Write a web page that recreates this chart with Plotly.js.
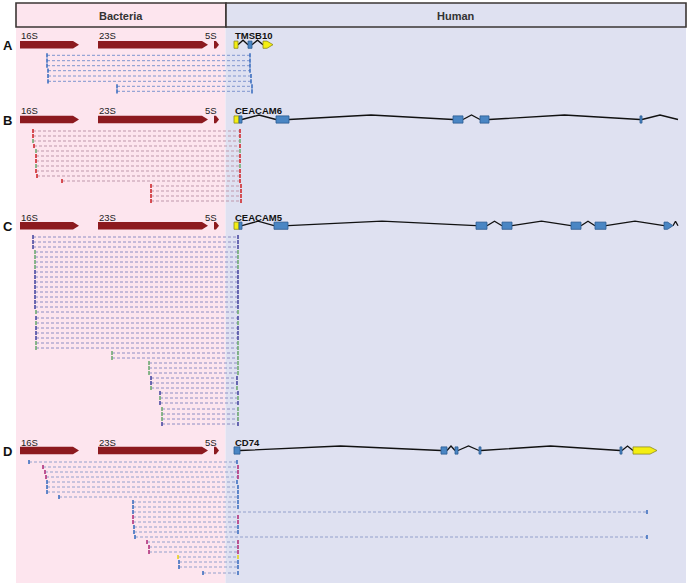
<!DOCTYPE html>
<html><head><meta charset="utf-8">
<script src="https://cdn.plot.ly/plotly-3.0.1.min.js"></script>
<style>html,body{margin:0;padding:0;background:#fff}#chart{width:687px;height:586px}</style>
</head><body><div id="chart"></div>
<script>
// ---------------- DATA (pixel-scale schematic coordinates) ----------------
const panelLetters = ["A","B","C","D"];
const panelRowY    = [44.7, 119.5, 225.7, 450.5];      // centre line of each gene row
const panelLabelY  = [35, 110, 217, 442];              // gene-name text row
const humanGenes   = ["TMSB10","CEACAM6","CEACAM5","CD74"];

// bacterial rRNA operon (same in every panel): [start, end, tip]
const rrnaNames = ["16S","23S","5S"];
const rrnaStart = [20, 98, 214];
const rrnaEnd   = [79, 208, 219];
const rrnaTip   = [6, 6, 3];

// human gene exons: [start, end, kind]  kind: y=yellow box, b=blue box, ya=yellow arrow, ba=blue arrow
const exonsTMSB10  = [[234,238,"y"],[248,252,"b"],[263,273,"ya"]];
const exonsCEACAM6 = [[234,239,"y"],[239,242,"b"],[276,289,"b"],[453,463,"b"],[480,489,"b"],[640,642,"b"]];
const exonsCEACAM5 = [[234,239,"y"],[239,242,"b"],[274,288,"b"],[476,487,"b"],[502,512,"b"],[571,581,"b"],[595,606,"b"],[664,673,"ba"]];
const exonsCD74    = [[234,240,"b"],[441,447,"b"],[455,458,"b"],[479,481,"b"],[620,622,"b"],[633,657,"ya"]];
const trailingIntron = [null,[642,678],[673,678],null];

// reads (chimeric fragments): row y, start, end, colour code
const aY     = [55.3,60.7,65.7,70.7,76,81.3,86.3,91.3];
const aStart = [47,47,47,48,48,48,117,117];
const aEnd   = [250,250,250,250,251,251,252,252];
const aCol   = ["b","b","b","b","b","b","b","b"];

const bY     = [131,136,141,146,151,156,161,166,171,176,181,186,191,196,201];
const bStart = [33,33,33,34,36,36,36,36,36,37,62,151,151,151,151];
const bEnd   = [240,240,240,240,240,240,240,240,240,240,240,241,241,241,241];
const bCol   = ["r","r","g","r","g","r","r","g","r","r","r","r","r","r","r"];

const cY     = [237,242,247,252,257,262,267,272,277,282,287,292,297,302,307,312,318,323,328,333,338,343,348,
                353,358,363,368,373,378,383,388,393,398,403,409,414,419,424];
const cStart = [33,33,33,35,35,35,35,35,35,35,35,35,35,35,35,36,36,36,36,36,36,36,36,
                112,112,149,149,149,151,151,151,160,160,160,162,162,162,162];
const cEnd   = [238,238,238,238,238,238,238,238,238,238,238,238,238,238,238,238,238,238,238,238,238,238,238,
                238,238,238,238,238,237,237,237,238,238,238,238,238,238,238];
const cCol   = ["p","p","p","g","g","g","g","p","p","p","p","p","p","p","p","g","p","g","p","p","p","g","g",
                "g","g","g","g","g","p","p","g","p","g","p","g","g","g","p"];

const dY     = [462,467,472,477,482,487,492,497,502,507,512,517,522,527,532,537,542,547,552,557,562,567,573];
const dStart = [29,43,45,46,47,47,47,59,133,133,133,133,133,134,134,135,147,149,149,178,179,179,203];
const dEnd   = [237,238,238,238,237,238,238,238,238,238,647,238,238,238,238,647,238,238,238,238,238,238,238];
const dCol   = ["b","m","m","m","b","b","b","b","b","b","b","m","m","b","b","b","m","m","m","y","b","b","b"];

// ---------------- STYLE ----------------
const markCol = {b:"#3e70c0", r:"#d02a2e", g:"#6fab72", p:"#4b4ba2", m:"#b2317c", y:"#e8d21c"};
const dashCol = ["#7f95cf","#bf97ab","#8e8ec4","#93a0cc"];
const FONT = "Liberation Sans, Arial, sans-serif";
const PINK = "#fde5ee", LAV = "#dfe1f1";

const shapes = [], annotations = [], traces = [];

// backgrounds
shapes.push({type:"rect",xref:"x",yref:"y",x0:16,x1:225.5,y0:27,y1:583,fillcolor:PINK,line:{width:0},layer:"below"});
shapes.push({type:"rect",xref:"x",yref:"y",x0:225.5,x1:686,y0:27,y1:583,fillcolor:LAV,line:{width:0},layer:"below"});
// header boxes
shapes.push({type:"rect",xref:"x",yref:"y",x0:16,x1:226,y0:3,y1:27,fillcolor:PINK,line:{color:"#3b3634",width:1.6},layer:"above"});
shapes.push({type:"rect",xref:"x",yref:"y",x0:226,x1:686,y0:3,y1:27,fillcolor:LAV,line:{color:"#3b3634",width:1.6},layer:"above"});
annotations.push({x:121,y:15.5,xref:"x",yref:"y",text:"<b>Bacteria</b>",showarrow:false,font:{family:FONT,size:11,color:"#333"}});
annotations.push({x:456,y:15.5,xref:"x",yref:"y",text:"<b>Human</b>",showarrow:false,font:{family:FONT,size:11,color:"#333"}});

function arrowPath(x0,x1,tip,yc,h){
  return `M ${x0},${yc-h} L ${x1-tip},${yc-h} L ${x1},${yc} L ${x1-tip},${yc+h} L ${x0},${yc+h} Z`;
}

const exonSets = [exonsTMSB10, exonsCEACAM6, exonsCEACAM5, exonsCD74];
const intronX = [], intronY = [];
const PEAK = 4.5, HH = 3.6;

panelLetters.forEach((L,i)=>{
  const yc = panelRowY[i];
  annotations.push({x:7.5,y:yc+0.5,xref:"x",yref:"y",text:"<b>"+L+"</b>",showarrow:false,font:{family:FONT,size:13,color:"#111"}});
  // rRNA genes
  rrnaNames.forEach((n,k)=>{
    shapes.push({type:"path",xref:"x",yref:"y",path:arrowPath(rrnaStart[k],rrnaEnd[k],rrnaTip[k],yc,3.8),
      fillcolor:"#8c1a1f",line:{width:0},layer:"above"});
    const ax = k===2 ? {x:rrnaEnd[k]+1,xanchor:"right"} : {x:rrnaStart[k],xanchor:"left"};
    annotations.push({x:ax.x,xanchor:ax.xanchor,y:panelLabelY[i],xref:"x",yref:"y",text:n,showarrow:false,
      font:{family:FONT,size:9.5,color:"#222"},xshift:-1});
  });
  // human gene name
  annotations.push({x:233.5,xanchor:"left",y:panelLabelY[i],xref:"x",yref:"y",text:"<b>"+humanGenes[i]+"</b>",
    showarrow:false,font:{family:FONT,size:9.5,color:"#111"},xshift:-1});
  // introns
  const ex = exonSets[i];
  for(let k=1;k<ex.length;k++){
    const a = ex[k-1][1], b = ex[k][0];
    if(b-a>0.5){ intronX.push(a,(a+b)/2,b,null); intronY.push(yc,yc-PEAK,yc,null); }
  }
  if(trailingIntron[i]){
    const [a,b]=trailingIntron[i];
    intronX.push(a,(a+b)/2,b,null); intronY.push(yc,yc-PEAK,yc,null);
  }
  // exons
  ex.forEach(([x0,x1,kind])=>{
    const fill = kind[0]==="y" ? "#f4ee12" : "#4a86c4";
    const edge = kind[0]==="y" ? "#8d8a1e" : "#2c5c92";
    if(kind.length===2){
      const tip = Math.min(7,(x1-x0)*0.6);
      shapes.push({type:"path",xref:"x",yref:"y",path:arrowPath(x0,x1,tip,yc,HH),fillcolor:fill,line:{color:edge,width:0.8},layer:"above"});
    } else {
      shapes.push({type:"rect",xref:"x",yref:"y",x0:x0,x1:x1,y0:yc-HH,y1:yc+HH,fillcolor:fill,line:{color:edge,width:0.8},layer:"above"});
    }
  });
});

traces.push({type:"scatter",mode:"lines",x:intronX,y:intronY,line:{color:"#111",width:1.3},hoverinfo:"skip"});

// reads
const readSets = [[aY,aStart,aEnd,aCol],[bY,bStart,bEnd,bCol],[cY,cStart,cEnd,cCol],[dY,dStart,dEnd,dCol]];
readSets.forEach(([ys,ss,es,cs],i)=>{
  const lx=[], ly=[], mx=[], my=[], mc=[];
  ys.forEach((y,k)=>{
    lx.push(ss[k],es[k],null); ly.push(y,y,null);
    mx.push(ss[k],es[k]); my.push(y,y); mc.push(markCol[cs[k]],markCol[cs[k]]);
  });
  traces.push({type:"scatter",mode:"lines",x:lx,y:ly,line:{color:dashCol[i],width:1,dash:"3px,2px"},hoverinfo:"skip"});
  traces.push({type:"scatter",mode:"markers",x:mx,y:my,
    marker:{symbol:"line-ns-open",size:3,color:mc,line:{width:1.6,color:mc}},hoverinfo:"skip"});
});

const layout = {
  width:687, height:586, margin:{l:0,r:0,t:0,b:0},
  paper_bgcolor:"#ffffff", plot_bgcolor:"#ffffff", showlegend:false,
  xaxis:{range:[0,687],visible:false,fixedrange:true},
  yaxis:{range:[586,0],visible:false,fixedrange:true},
  shapes:shapes, annotations:annotations
};
Plotly.newPlot("chart",traces,layout,{displayModeBar:false,staticPlot:true});
</script></body></html>
